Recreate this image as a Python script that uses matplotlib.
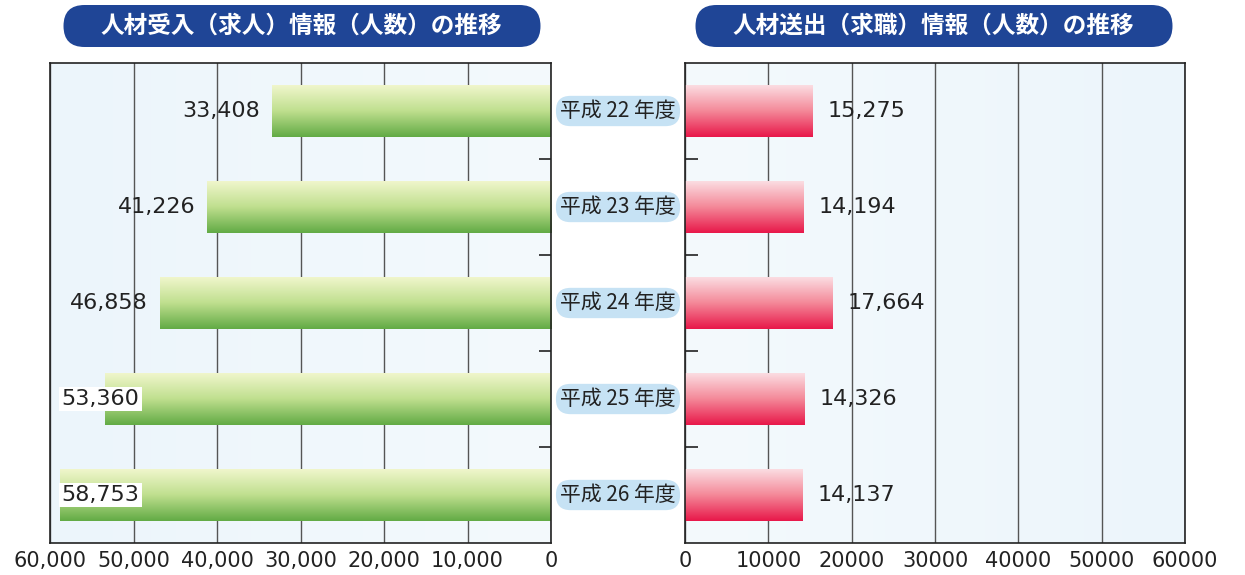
import numpy as np
import matplotlib
matplotlib.use("Agg")
import matplotlib.pyplot as plt
from matplotlib import transforms
from matplotlib.colors import LinearSegmentedColormap
from matplotlib.patches import FancyBboxPatch

# ---------------------------------------------------------------------------
# Data
# ---------------------------------------------------------------------------

YEARS = ["平成 22 年度", "平成 23 年度", "平成 24 年度", "平成 25 年度", "平成 26 年度"]
JOB_OFFERS = [33408, 41226, 46858, 53360, 58753]      # 人材受入（求人）
JOB_SEEKERS = [15275, 14194, 17664, 14326, 14137]     # 人材送出（求職）
X_TICKS = [0, 10000, 20000, 30000, 40000, 50000, 60000]

TITLE_LEFT = "人材受入（求人）情報（人数）の推移"
TITLE_RIGHT = "人材送出（求職）情報（人数）の推移"

CJK = ["Noto Sans CJK JP", "DejaVu Sans"]
BANNER_BLUE = "#1f4596"
BAR_HEIGHT = 0.54
LABEL_LIMIT = 49300   # left labels never start further out than this

green_cmap = LinearSegmentedColormap.from_list(
    "green_bar", ["#f0f6cc", "#bfdf8e", "#62ab45"])
red_cmap = LinearSegmentedColormap.from_list(
    "red_bar", ["#fbdde2", "#f48898", "#e8184a"])
bg_cmap = LinearSegmentedColormap.from_list("bg", ["#ecf5fb", "#f4fafd"])


def paint_background(ax, reverse=False):
    grad = np.linspace(0, 1, 256).reshape(1, -1)
    if reverse:
        grad = grad[:, ::-1]
    ax.imshow(grad, cmap=bg_cmap, aspect="auto", extent=(0, 1, 0, 1),
              transform=ax.transAxes, zorder=0)


def gradient_bars(ax, values, cmap):
    bars = ax.barh(range(len(values)), values, height=BAR_HEIGHT,
                   color="none", edgecolor="none", zorder=3)
    grad = np.linspace(0, 1, 128).reshape(-1, 1)
    for rect in bars:
        x0, y0 = rect.get_x(), rect.get_y()
        w, h = rect.get_width(), rect.get_height()
        # rows run top to bottom on an inverted y axis
        ax.imshow(grad, cmap=cmap, aspect="auto", interpolation="bicubic",
                  extent=(x0, x0 + w, y0 + h, y0), zorder=2)
    return bars


def style_axes(ax):
    ax.set_ylim(len(YEARS) - 0.5, -0.5)
    ax.set_xticks(X_TICKS)
    ax.grid(axis="x", color="#555555", linewidth=1.0, zorder=1)
    ax.set_axisbelow(True)
    ax.tick_params(axis="x", length=0, pad=6, labelsize=15, labelcolor="#222222")
    ax.set_yticks(np.arange(0.5, len(YEARS) - 1, 1.0))
    ax.set_yticklabels([])
    for sp in ax.spines.values():
        sp.set_color("#222222")
        sp.set_linewidth(1.2)


fig = plt.figure(figsize=(12.45, 5.75), dpi=100)
fig.patch.set_facecolor("white")

ax_l = fig.add_axes([50 / 1245, 1 - 543 / 575, 501 / 1245, 480 / 575])
ax_r = fig.add_axes([685 / 1245, 1 - 543 / 575, 500 / 1245, 480 / 575])

# Left: job offers, growing leftwards
paint_background(ax_l)
gradient_bars(ax_l, JOB_OFFERS, green_cmap)
ax_l.set_xlim(60000, 0)
style_axes(ax_l)
ax_l.set_xticklabels([f"{t:,}" for t in X_TICKS])
ax_l.yaxis.tick_right()
ax_l.tick_params(axis="y", direction="in", length=9, width=1.2, color="#222222")
for i, v in enumerate(JOB_OFFERS):
    x = v + 1400
    box = None
    if x > LABEL_LIMIT:
        # label sits on top of the bar, give it a white backing
        x = LABEL_LIMIT
        box = dict(boxstyle="square,pad=0.1", facecolor="white", edgecolor="none")
    ax_l.text(x, i, f"{v:,}", ha="right", va="center",
              fontsize=16, color="#222222", zorder=5, bbox=box)

# Right: job seekers
paint_background(ax_r, reverse=True)
gradient_bars(ax_r, JOB_SEEKERS, red_cmap)
ax_r.set_xlim(0, 60000)
style_axes(ax_r)
ax_r.set_xticklabels([str(t) for t in X_TICKS])
ax_r.tick_params(axis="y", direction="in", length=9, width=1.2, color="#222222")
for i, v in enumerate(JOB_SEEKERS):
    ax_r.text(v + 1800, i, f"{v:,}", ha="left", va="center",
              fontsize=16, color="#222222", zorder=5)

# Year labels between the two panels
mid = transforms.blended_transform_factory(fig.transFigure, ax_l.transData)
for i, label in enumerate(YEARS):
    fig.text(618 / 1245, i, label, transform=mid, ha="center", va="center",
             fontsize=15, family=CJK, color="#222222",
             bbox=dict(boxstyle="round,pad=0.2,rounding_size=0.7",
                       facecolor="#c6e2f4", edgecolor="none"))

# Title banners (inch coordinates, dpi 100)
for cx, title in [(301.5, TITLE_LEFT), (933.5, TITLE_RIGHT)]:
    banner = FancyBboxPatch(((cx - 238) / 100, (575 - 47) / 100), 4.77, 0.42,
                            boxstyle="round,pad=0,rounding_size=0.21",
                            transform=fig.dpi_scale_trans,
                            facecolor=BANNER_BLUE, edgecolor="none")
    fig.patches.append(banner)
    fig.text(cx / 1245, 1 - 26 / 575, title, ha="center", va="center",
             fontsize=17, fontweight="bold", family=CJK, color="white")

fig.savefig("out.png", dpi=100)
